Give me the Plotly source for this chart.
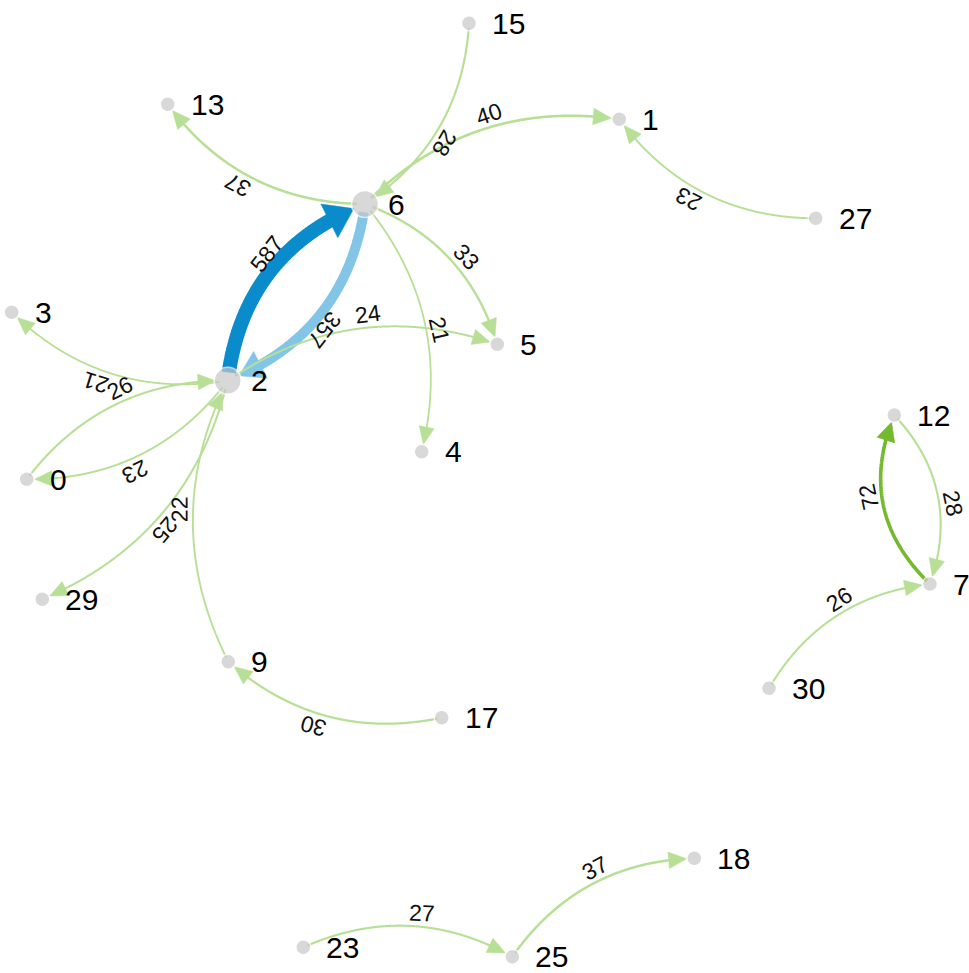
import numpy as np
import plotly.graph_objects as go

# ---- data ----
node_ids = [15, 13, 1, 6, 27, 3, 5, 2, 4, 12, 0, 29, 7, 9, 30, 17, 18, 23, 25]
node_x = [469, 167.7, 619.3, 365, 815.7, 11.7, 497.3, 227.7, 421.7, 894.3,
          26.7, 42.3, 930, 228.3, 769, 441.7, 694.3, 303.3, 512.3]
node_y = [23.3, 104.3, 119.3, 204, 218.3, 312.3, 344.3, 380.7, 451.7, 415,
          479.3, 599.3, 584, 661.7, 688.3, 717.7, 858.3, 947.3, 956.7]

edge_source = [2, 6, 7, 12, 6, 15, 6, 27, 6, 6, 2, 2, 0, 2, 2, 9, 17, 30, 23, 25]
edge_target = [6, 2, 12, 7, 13, 6, 1, 1, 5, 4, 5, 3, 2, 0, 29, 2, 9, 7, 25, 18]
edge_value = [587, 357, 72, 28, 37, 28, 40, 23, 33, 21, 24, 21, 26, 23, 25, 22, 30, 26, 27, 37]

# ---- styling ----
W, H = 969, 973
special_curve = {(2, 6): 0.30, (6, 2): 0.29, (12, 7): 0.30, (7, 12): 0.34}
default_curve = 0.25


def edge_color(v):
    if v >= 500:
        return "#0a8ccc"
    if v >= 300:
        return "#82c5e7"
    if v >= 50:
        return "#74b92e"
    return "#b8df96"


def edge_width(v):
    return 1.8 + 12.5 * ((v - 21) / 566.0) ** 0.8


pos = {n: (x, y) for n, x, y in zip(node_ids, node_x, node_y)}
degree = {n: 0 for n in node_ids}
for s, t in zip(edge_source, edge_target):
    degree[s] += 1
    degree[t] += 1
node_size = {n: (27 if degree[n] > 4 else 15) for n in node_ids}

fig = go.Figure()
annotations = []

for s, t, v in zip(edge_source, edge_target, edge_value):
    x1, y1 = pos[s]
    x2, y2 = pos[t]
    c = special_curve.get((s, t), default_curve)
    dx, dy = x2 - x1, y2 - y1
    mx, my = (x1 + x2) / 2, (y1 + y2) / 2
    cx, cy = mx + c * dy, my - c * dx
    tt = np.linspace(0, 1, 600)
    bx = (1 - tt) ** 2 * x1 + 2 * (1 - tt) * tt * cx + tt ** 2 * x2
    by = (1 - tt) ** 2 * y1 + 2 * (1 - tt) * tt * cy + tt ** 2 * y2
    rs = node_size[s] / 2
    rt = node_size[t] / 2
    w = edge_width(v)
    alen = 16 + 0.8 * w
    awid = 12 + 1.8 * w
    ds = np.hypot(bx - x1, by - y1)
    dt = np.hypot(bx - x2, by - y2)
    i0 = int(np.argmax(ds >= rs * 0.6))
    tip_r = rt - 1.5 if rt > 10 else rt
    tip_i = int(np.where(dt >= tip_r)[0][-1])
    base_i = int(np.where(dt >= tip_r + alen)[0][-1])
    end_i = int(np.where(dt >= tip_r + alen * 0.6)[0][-1])
    col = edge_color(v)
    fig.add_trace(go.Scatter(x=bx[i0:end_i + 1], y=by[i0:end_i + 1], mode="lines",
                             line=dict(color=col, width=w, simplify=False),
                             hoverinfo="skip", showlegend=False))
    tx, ty = bx[tip_i], by[tip_i]
    ux, uy = tx - bx[base_i], ty - by[base_i]
    un = np.hypot(ux, uy)
    ux, uy = ux / un, uy / un
    basex, basey = tx - ux * alen, ty - uy * alen
    nx, ny = -uy, ux
    fig.add_trace(go.Scatter(
        x=[tx, basex + nx * awid / 2, basex - nx * awid / 2, tx],
        y=[ty, basey + ny * awid / 2, basey - ny * awid / 2, ty],
        mode="lines", fill="toself", fillcolor=col, line=dict(color=col, width=0.5),
        hoverinfo="skip", showlegend=False))
    # label
    L = np.hypot(dx, dy)
    tux, tuy = dx / L, dy / L
    lx, ly = tuy, -tux
    midx = 0.25 * x1 + 0.5 * cx + 0.25 * x2
    midy = 0.25 * y1 + 0.5 * cy + 0.25 * y2
    labx = midx + 12 * tux + 13 * lx
    laby = midy + 12 * tuy + 13 * ly
    ang = np.degrees(np.arctan2(dy, dx))
    annotations.append(dict(x=labx, y=laby, xref="x", yref="y", text=str(v),
                            showarrow=False, textangle=ang, borderpad=0,
                            font=dict(family="Liberation Sans, Arial", size=23, color="#111"),
                            xanchor="center", yanchor="middle"))

fig.add_trace(go.Scatter(
    x=node_x, y=node_y, mode="markers",
    marker=dict(size=[node_size[n] for n in node_ids], color="#c8c8c8",
                line=dict(color="white", width=1.5)),
    hoverinfo="text", text=[str(n) for n in node_ids], showlegend=False))

for n, x, y in zip(node_ids, node_x, node_y):
    annotations.append(dict(x=x + 22, y=y, xref="x", yref="y", text=str(n),
                            showarrow=False, xanchor="left", yanchor="middle", borderpad=0,
                            font=dict(family="Liberation Sans, Arial", size=30, color="#000")))

fig.update_layout(
    width=W, height=H, autosize=False,
    margin=dict(l=0, r=0, t=0, b=0),
    paper_bgcolor="white", plot_bgcolor="white",
    xaxis=dict(range=[0, W], visible=False, fixedrange=True),
    yaxis=dict(range=[H, 0], visible=False, fixedrange=True),
    annotations=annotations,
)

fig.write_html("out.html", config={"displayModeBar": False},
               post_script="document.body.style.margin='0px';document.body.style.overflow='hidden';")
